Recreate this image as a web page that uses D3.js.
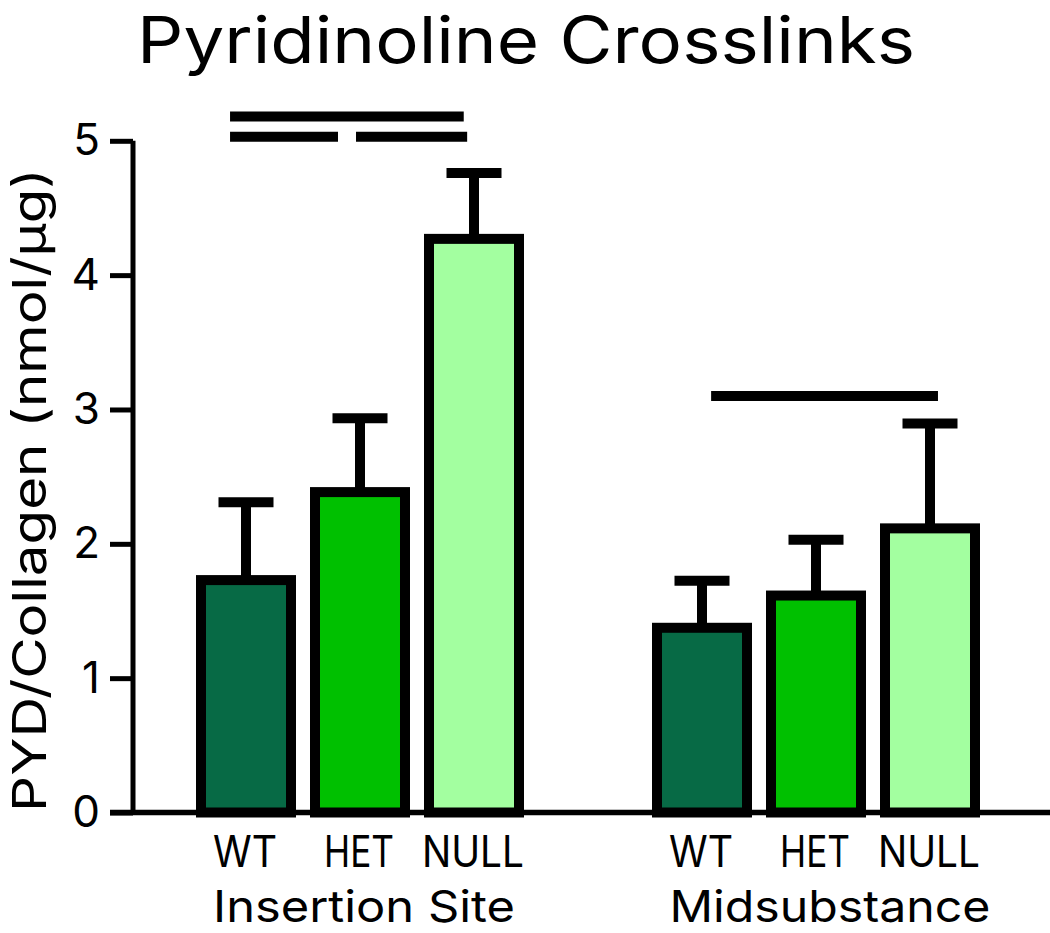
<!DOCTYPE html>
<html>
<head>
<meta charset="utf-8">
<script src="https://cdn.jsdelivr.net/npm/d3@7"></script>
<style>
  html, body { margin: 0; padding: 0; background: #ffffff; }
  svg { display: block; }
  text { font-family: Inter, Roboto, sans-serif; fill: #000; }
</style>
</head>
<body>
<svg id="chart" width="1050" height="933"></svg>
<script>
// ---- data ----
const title = "Pyridinoline Crosslinks";
const yLabel = "PYD/Collagen (nmol/µg)";
const groups = ["Insertion Site", "Midsubstance"];
const genotypes = ["WT", "HET", "NULL"];
const colors = ["#076a45", "#00c000", "#a3ffa0"];
const insertionMeans = [1.73, 2.385, 4.27];
const insertionErr = [0.58, 0.55, 0.49];
const midsubstanceMeans = [1.375, 1.615, 2.115];
const midsubstanceErr = [0.35, 0.415, 0.78];
const yTicks = [0, 1, 2, 3, 4, 5];
// significance lines: [start slot, end slot, y value] (slot units along x)
const sigLines = [
  [0.36, 2.41, 5.18],
  [0.36, 1.307, 5.03],
  [1.465, 2.44, 5.03],
  [4.58, 6.57, 3.10]
];

// slots: 3 bars, a gap, 3 bars
const slots = ["IS-WT", "IS-HET", "IS-NULL", "gap", "MS-WT", "MS-HET", "MS-NULL"];
const bars = [];
genotypes.forEach((g, i) => bars.push({slot: "IS-" + g, geno: g, mean: insertionMeans[i], err: insertionErr[i], color: colors[i]}));
genotypes.forEach((g, i) => bars.push({slot: "MS-" + g, geno: g, mean: midsubstanceMeans[i], err: midsubstanceErr[i], color: colors[i]}));

const W = 1050, H = 933;
const svg = d3.select("#chart");

const y = d3.scaleLinear().domain([0, 5]).range([812.5, 140.8]);
const x = d3.scaleBand().domain(slots).range([189, 987]).paddingInner(24 / 114).paddingOuter(12 / 114);
const xs = d3.scaleLinear().domain([0, slots.length]).range([189, 987]);
const cx = s => x(s) + x.bandwidth() / 2;

// centred text, horizontally scaled to a target width, kept inside the canvas
function fitText(parent, str, px, py, size, width, rotate) {
  const t = parent.append("text")
    .attr("text-anchor", "middle")
    .attr("font-size", size)
    .text(str);
  const w = t.node().getComputedTextLength();
  const s = w > 0 ? width / w : 1;
  const place = (ox, oy) => t.attr("transform",
    `translate(${ox},${oy})${rotate ? " rotate(" + rotate + ")" : ""} scale(${s},1)`);
  place(px, py);
  const r = t.node().getBoundingClientRect();
  let dx = 0, dy = 0;
  if (r.left < 0.5) dx = 0.5 - r.left;
  if (r.right > W - 0.5) dx = (W - 0.5) - r.right;
  if (r.top < 0.5) dy = 0.5 - r.top;
  if (r.bottom > H - 0.5) dy = (H - 0.5) - r.bottom;
  if (dx || dy) place(px + dx, py + dy);
  return t;
}

// title
fitText(svg, title, 526, 63, 64, 778, 0);

// y label
fitText(svg, yLabel, 46, 490, 47, 644, -90);

// error bars (behind bars)
const eb = svg.append("g").attr("stroke", "#000").attr("stroke-width", 10).attr("fill", "none");
eb.selectAll("line.v").data(bars).join("line").attr("class", "v")
  .attr("x1", d => cx(d.slot)).attr("x2", d => cx(d.slot))
  .attr("y1", d => y(d.mean)).attr("y2", d => y(d.mean + d.err));
eb.selectAll("line.c").data(bars).join("line").attr("class", "c")
  .attr("x1", d => cx(d.slot) - 27.5).attr("x2", d => cx(d.slot) + 27.5)
  .attr("y1", d => y(d.mean + d.err)).attr("y2", d => y(d.mean + d.err));

// bars
svg.append("g").selectAll("rect").data(bars).join("rect")
  .attr("x", d => x(d.slot))
  .attr("width", x.bandwidth())
  .attr("y", d => y(d.mean))
  .attr("height", d => y(0) - y(d.mean))
  .attr("fill", d => d.color)
  .attr("stroke", "#000")
  .attr("stroke-width", 10);

// y axis
const yAxis = d3.axisLeft(y).tickValues(yTicks).tickSize(23).tickPadding(10).tickFormat(d3.format("d"));
const ga = svg.append("g").attr("transform", "translate(133,0)").call(yAxis);
ga.select(".domain").attr("d", `M0,${y(5)}V${y(0)}`).attr("stroke", "#000").attr("stroke-width", 5);
ga.selectAll(".tick line").attr("stroke", "#000").attr("stroke-width", 5);
ga.selectAll(".tick text").attr("font-size", 44).attr("font-family", "Inter, Roboto, sans-serif")
  .attr("fill", "#000");

// x axis line
svg.append("line")
  .attr("x1", 110).attr("x2", 1050)
  .attr("y1", y(0)).attr("y2", y(0))
  .attr("stroke", "#000").attr("stroke-width", 5.5);

// category labels
const genoWidths = {WT: 64, HET: 70, NULL: 102};
const gl = svg.append("g");
bars.forEach(d => fitText(gl, d.geno, cx(d.slot) - 1, 867, 44, genoWidths[d.geno], 0));

// group labels
const groupCenters = [cx("IS-HET") + 4, cx("MS-HET") + 14];
const groupWidths = [302, 321];
const gg = svg.append("g");
groups.forEach((g, i) => fitText(gg, g, groupCenters[i], 922, 44, groupWidths[i], 0));

// significance lines
svg.append("g").selectAll("line").data(sigLines).join("line")
  .attr("x1", d => xs(d[0])).attr("x2", d => xs(d[1]))
  .attr("y1", d => y(d[2])).attr("y2", d => y(d[2]))
  .attr("stroke", "#000").attr("stroke-width", 10);
</script>
</body>
</html>
